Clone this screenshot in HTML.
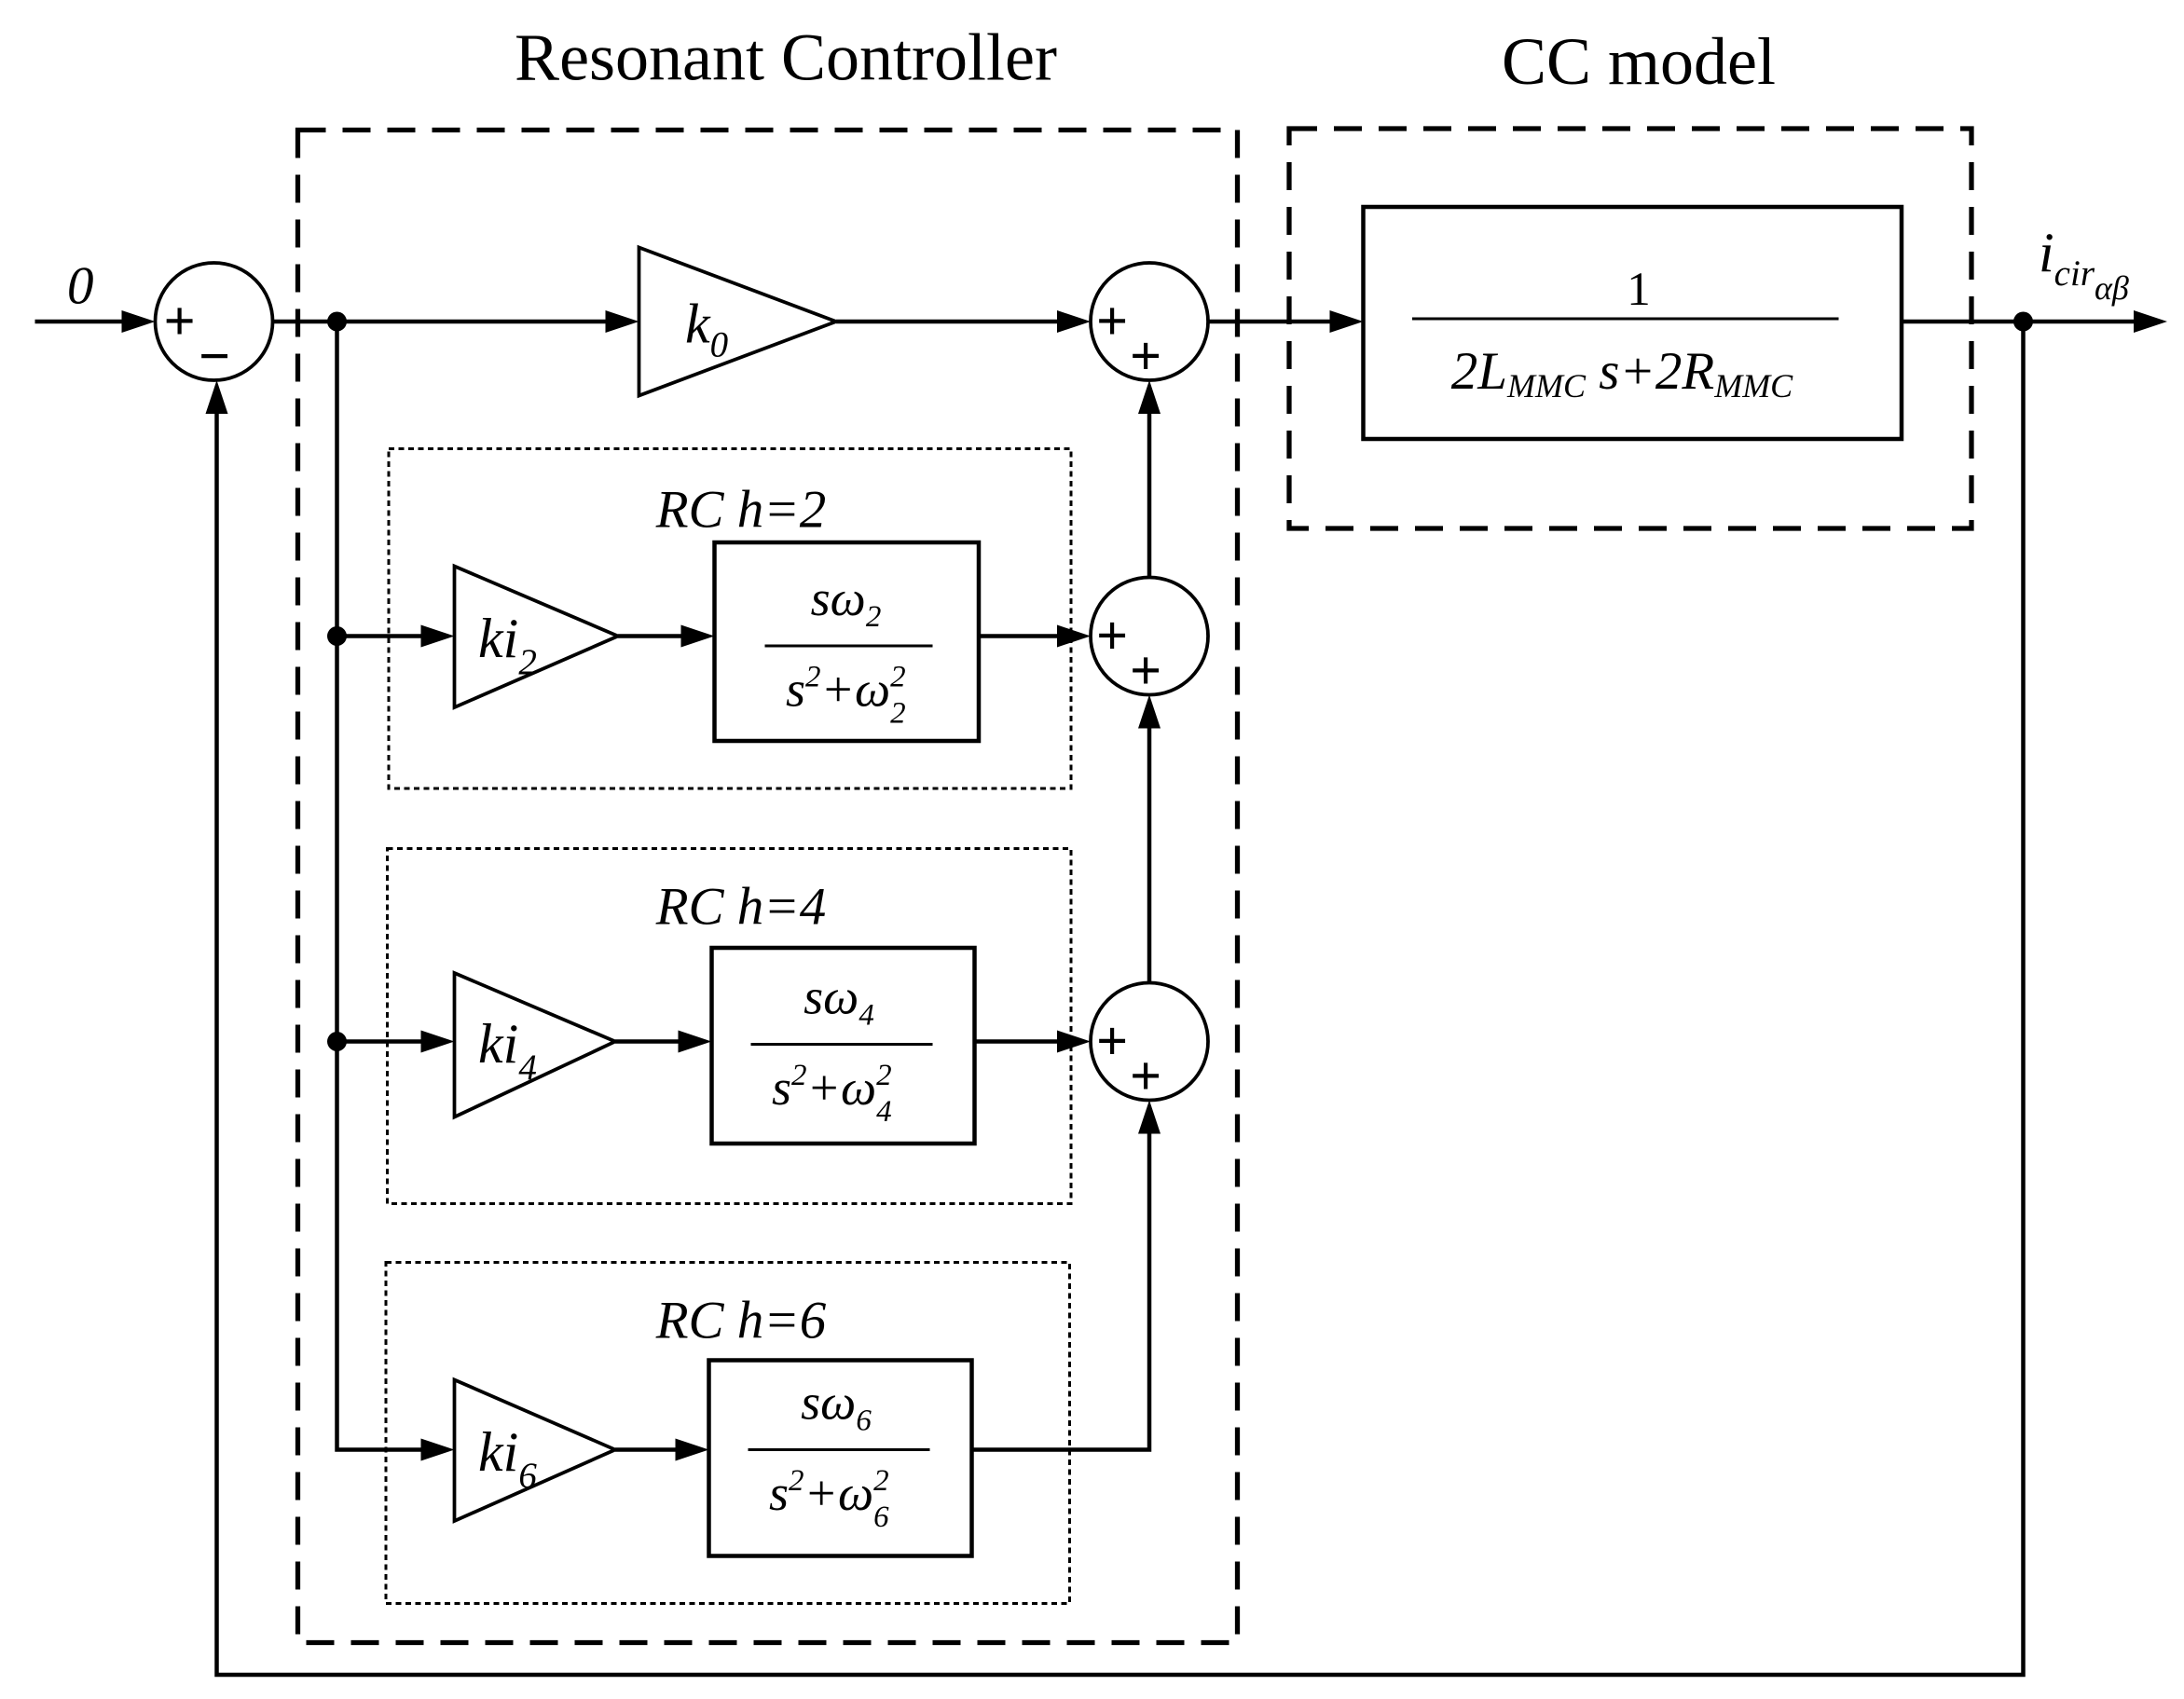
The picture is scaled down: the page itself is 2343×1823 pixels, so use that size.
<!DOCTYPE html>
<html><head><meta charset="utf-8"><style>
html,body{margin:0;padding:0;background:#fff;}
svg{display:block;}
text{font-family:"Liberation Serif",serif;fill:#000;}
.it{font-style:italic;}
</style></head><body>
<svg width="2343" height="1823" viewBox="0 0 1562 1215.33" xmlns="http://www.w3.org/2000/svg">
<g stroke="#000" fill="none">
<rect x="213" y="93" width="672" height="1082" stroke-width="3.5" stroke-dasharray="20 12"/>
<rect x="922" y="92" width="488" height="286" stroke-width="3.5" stroke-dasharray="20 12"/>
<rect x="278" y="321" width="488" height="243" stroke-width="2" stroke-dasharray="4 3"/>
<rect x="277" y="607" width="489" height="254" stroke-width="2" stroke-dasharray="4 3"/>
<rect x="276" y="903" width="489" height="244" stroke-width="2" stroke-dasharray="4 3"/>
<g stroke-width="2.5">
<circle cx="153" cy="230" r="42"/>
<circle cx="822" cy="230" r="42"/>
<circle cx="822" cy="455" r="42"/>
<circle cx="822" cy="745" r="42"/>
</g>
<g stroke-width="2.5">
<path d="M457,177 L598,230 L457,283 Z"/>
<path d="M325,405 L442,455 L325,506 Z"/>
<path d="M325,696 L440,745 L325,799 Z"/>
<path d="M325,987 L440,1037 L325,1088 Z"/>
</g>
<g stroke-width="3">
<rect x="975" y="148" width="385" height="166"/>
<rect x="511" y="388" width="189" height="142"/>
<rect x="509" y="678" width="188" height="140"/>
<rect x="507" y="973" width="188" height="140"/>
</g>
<g stroke-width="2">
<line x1="1010" y1="228" x2="1315" y2="228"/>
<line x1="547" y1="462" x2="667" y2="462"/>
<line x1="537" y1="747" x2="667" y2="747"/>
<line x1="535" y1="1037" x2="665" y2="1037"/>
</g>
<g stroke-width="3">
<line x1="25" y1="230" x2="105" y2="230"/>
<line x1="195" y1="230" x2="452" y2="230"/>
<line x1="598" y1="230" x2="775" y2="230"/>
<line x1="864" y1="230" x2="970" y2="230"/>
<line x1="1360" y1="230" x2="1545" y2="230"/>
<polyline points="1447,230 1447,1198 155,1198 155,277"/>
<polyline points="241,230 241,1037 320,1037"/>
<line x1="241" y1="455" x2="320" y2="455"/>
<line x1="241" y1="745" x2="320" y2="745"/>
<line x1="442" y1="455" x2="506" y2="455"/>
<line x1="700" y1="455" x2="775" y2="455"/>
<line x1="440" y1="745" x2="504" y2="745"/>
<line x1="697" y1="745" x2="775" y2="745"/>
<line x1="440" y1="1037" x2="502" y2="1037"/>
<polyline points="695,1037 822,1037 822,792"/>
<line x1="822" y1="703" x2="822" y2="502"/>
<line x1="822" y1="413" x2="822" y2="277"/>
</g>
</g>
<g fill="#000">
<circle cx="241" cy="230" r="7"/><circle cx="241" cy="455" r="7"/><circle cx="241" cy="745" r="7"/><circle cx="1447" cy="230" r="7"/>
<!-- right arrows -->
<polygon points="87,222 111,230 87,238"/>
<polygon points="433,222 457,230 433,238"/>
<polygon points="756,222 780,230 756,238"/>
<polygon points="951,222 975,230 951,238"/>
<polygon points="1526,222 1550,230 1526,238"/>
<polygon points="301,1029 325,1037 301,1045"/>
<polygon points="301,447 325,455 301,463"/>
<polygon points="301,737 325,745 301,753"/>
<polygon points="487,447 511,455 487,463"/>
<polygon points="756,447 780,455 756,463"/>
<polygon points="485,737 509,745 485,753"/>
<polygon points="756,737 780,745 756,753"/>
<polygon points="483,1029 507,1037 483,1045"/>
<!-- up arrows -->
<polygon points="155,272 147,296 163,296"/>
<polygon points="822,787 814,811 830,811"/>
<polygon points="822,497 814,521 830,521"/>
<polygon points="822,272 814,296 830,296"/>
</g>
<g font-size="40" font-weight="bold" style="font-family:'Liberation Sans',sans-serif">
<text x="117" y="243">+</text><text x="142" y="268">−</text>
<text x="784" y="243">+</text><text x="808" y="268">+</text>
<text x="784" y="468">+</text><text x="808" y="493">+</text>
<text x="784" y="758">+</text><text x="808" y="783">+</text>
</g>
<text x="562" y="57" font-size="48" text-anchor="middle">Resonant Controller</text>
<text x="1172" y="60" font-size="48" text-anchor="middle">CC model</text>
<text x="48" y="217" font-size="38" class="it">0</text>
<text x="1458" y="194" font-size="40" class="it">i<tspan font-size="26" dy="10">cir</tspan><tspan font-size="24" dy="10">αβ</tspan></text>
<text x="490" y="245" font-size="40" class="it">k<tspan font-size="26" dy="10">0</tspan></text>
<text x="342" y="470" font-size="40" class="it">ki<tspan font-size="26" dy="12">2</tspan></text>
<text x="342" y="760" font-size="40" class="it">ki<tspan font-size="26" dy="12">4</tspan></text>
<text x="342" y="1052" font-size="40" class="it">ki<tspan font-size="26" dy="12">6</tspan></text>
<text x="530" y="377" font-size="38" class="it" text-anchor="middle">RC h=2</text>
<text x="530" y="661" font-size="38" class="it" text-anchor="middle">RC h=4</text>
<text x="530" y="957" font-size="38" class="it" text-anchor="middle">RC h=6</text>
<text x="1172" y="218" font-size="34" text-anchor="middle">1</text>
<text x="1160" y="278" font-size="38" class="it" text-anchor="middle">2L<tspan font-size="24" dy="6">MMC</tspan><tspan dy="-6"> s+2R</tspan><tspan font-size="24" dy="6">MMC</tspan></text>
<text x="605" y="440" font-size="36" class="it" text-anchor="middle">sω<tspan font-size="22" dy="8">2</tspan></text>
<text x="562" y="505" font-size="36" class="it">s<tspan font-size="22" dy="-14">2</tspan><tspan dy="14">+ω</tspan><tspan font-size="22" dy="-14">2</tspan><tspan font-size="22" dx="-11" dy="26">2</tspan></text>
<text x="600" y="725" font-size="36" class="it" text-anchor="middle">sω<tspan font-size="22" dy="8">4</tspan></text>
<text x="552" y="790" font-size="36" class="it">s<tspan font-size="22" dy="-14">2</tspan><tspan dy="14">+ω</tspan><tspan font-size="22" dy="-14">2</tspan><tspan font-size="22" dx="-11" dy="26">4</tspan></text>
<text x="598" y="1015" font-size="36" class="it" text-anchor="middle">sω<tspan font-size="22" dy="8">6</tspan></text>
<text x="550" y="1080" font-size="36" class="it">s<tspan font-size="22" dy="-14">2</tspan><tspan dy="14">+ω</tspan><tspan font-size="22" dy="-14">2</tspan><tspan font-size="22" dx="-11" dy="26">6</tspan></text>
</svg>
</body></html>
